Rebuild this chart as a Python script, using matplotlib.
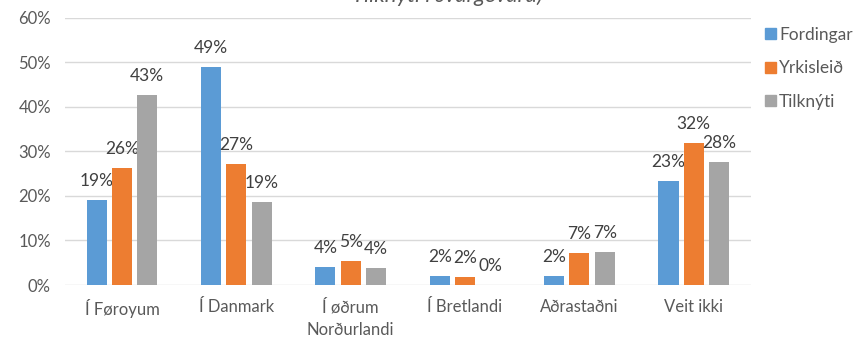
import numpy as np
import matplotlib
matplotlib.use("Agg")
import matplotlib.pyplot as plt
from matplotlib.patches import Patch

plt.rcParams['font.family'] = ['Lato', 'DejaVu Sans']

# answers per place, share of respondents
places = ['Í Føroyum', 'Í Danmark', 'Í øðrum\nNorðurlandi', 'Í Bretlandi', 'Aðrastaðni', 'Veit ikki']
fordingar = [0.191, 0.490, 0.040, 0.020, 0.020, 0.234]
yrkisleid = [0.263, 0.272, 0.054, 0.018, 0.072, 0.319]
tilknyti = [0.426, 0.186, 0.038, 0.000, 0.074, 0.276]
series_names = ['Fordingar', 'Yrkisleið', 'Tilknýti']
colours = ['#5B9BD5', '#ED7D31', '#A5A5A5']

fig = plt.figure(figsize=(8.55, 3.38), dpi=100)
ax = fig.add_axes([0.0758, 0.1568, 0.8025, 0.79])

x = np.arange(len(places))
width = 0.175
step = 0.221

for i, (vals, col) in enumerate(zip([fordingar, yrkisleid, tilknyti], colours)):
    pos = x + (i - 1) * step
    ax.bar(pos, vals, width, color=col, zorder=3)
    for px, v in zip(pos, vals):
        ax.annotate('%d%%' % int(v * 100 + 0.5), (px, v), xytext=(0, 8),
                    textcoords='offset points', ha='center', va='bottom',
                    fontsize=12.5, color='#404040')

ax.set_xlim(-0.5, len(places) - 0.5)
ax.set_ylim(0, 0.6)
ax.set_yticks(np.arange(0, 0.61, 0.1))
ax.set_yticklabels(['%d%%' % round(t * 100) for t in np.arange(0, 0.61, 0.1)])
ax.set_xticks(x)
ax.set_xticklabels(places, linespacing=1.5)
ax.tick_params(axis='both', length=0, colors='#595959', labelsize=12)
ax.tick_params(axis='x', pad=10)
ax.tick_params(axis='y', pad=10)
ax.grid(axis='y', color='#D9D9D9', linewidth=1, zorder=0)
for s in ax.spines.values():
    s.set_visible(False)

handles = [Patch(color=c) for c in colours]
fig.legend(handles, series_names, loc='upper left', bbox_to_anchor=(0.895, 0.92),
           frameon=False, fontsize=12.5, labelcolor='#595959',
           handlelength=0.6, handleheight=0.6, handletextpad=0.2, labelspacing=1.0,
           borderaxespad=0, borderpad=0)

fig.text(0.523, 1 - 2.5 / 338, 'Tilknýti í svargevaru)', ha='center', va='baseline',
         fontsize=16, style='italic', color='#595959')

fig.savefig('out.png', dpi=100)
